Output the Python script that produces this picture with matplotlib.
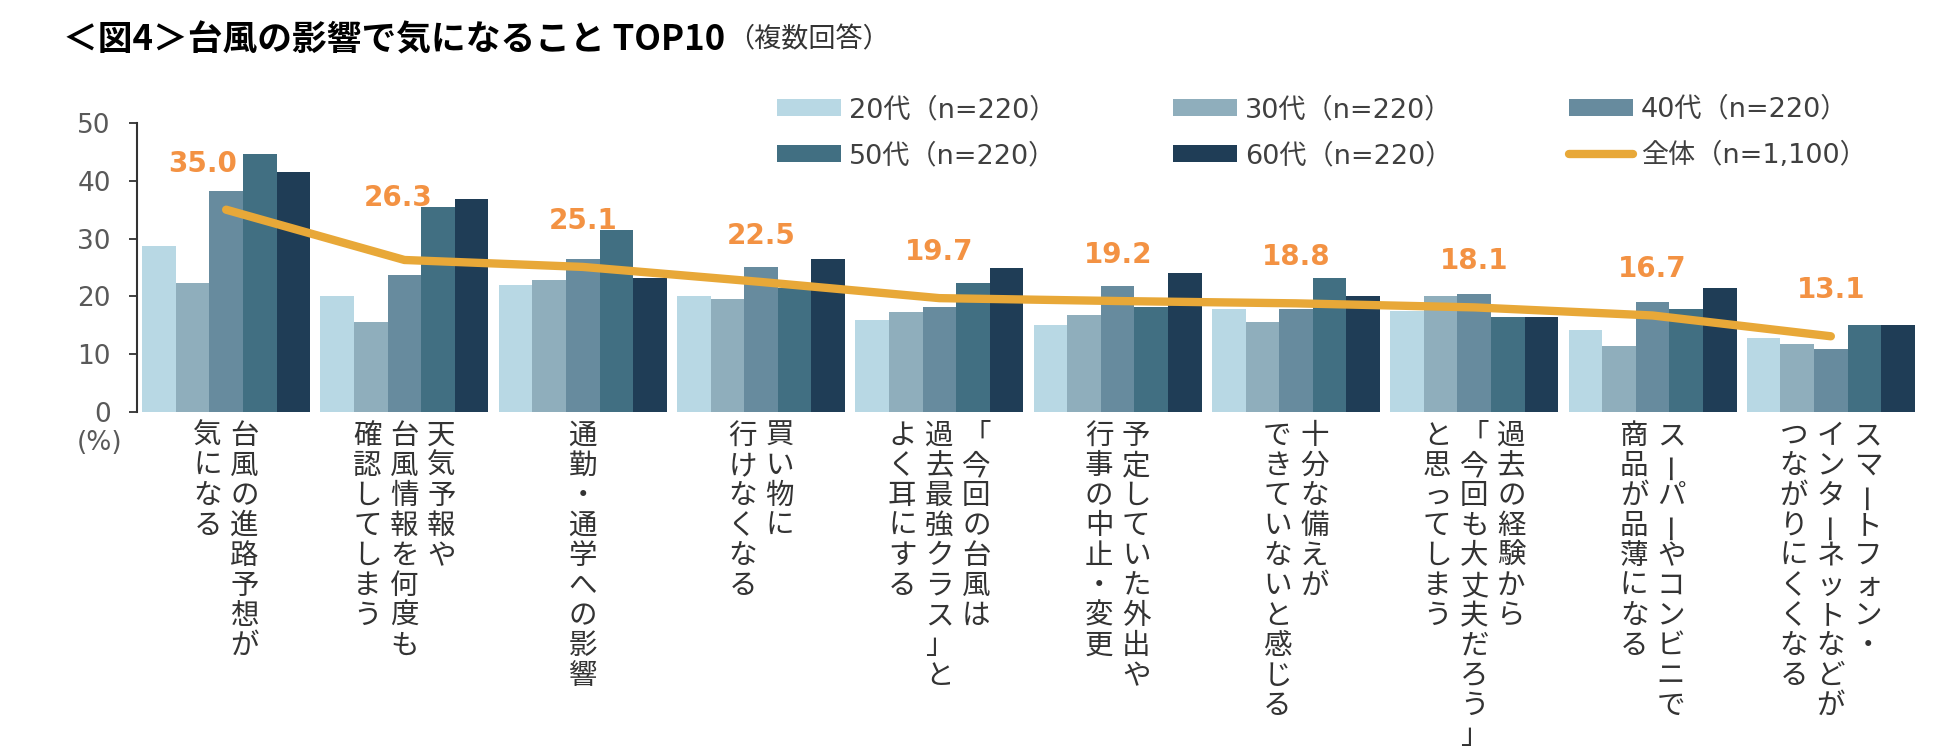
import matplotlib
matplotlib.use("Agg")
import matplotlib.pyplot as plt
from matplotlib.patches import Patch
from matplotlib.lines import Line2D
from matplotlib.font_manager import FontProperties
from matplotlib import transforms as mtrans
import numpy as np

# ---------------- data ----------------
categories = [
    ["台風の進路予想が", "気になる"],
    ["天気予報や", "台風情報を何度も", "確認してしまう"],
    ["通勤・通学への影響"],
    ["買い物に", "行けなくなる"],
    ["「今回の台風は", "過去最強クラス」と", "よく耳にする"],
    ["予定していた外出や", "行事の中止・変更"],
    ["十分な備えが", "できていないと感じる"],
    ["過去の経験から", "「今回も大丈夫だろう」", "と思ってしまう"],
    ["スーパーやコンビニで", "商品が品薄になる"],
    ["スマートフォン・", "インターネットなどが", "つながりにくくなる"],
]
series_names = ["20代（n=220）", "30代（n=220）", "40代（n=220）",
                "50代（n=220）", "60代（n=220）"]
total_name = "全体（n=1,100）"

age20 = [28.7, 20.1, 21.9, 20.1, 15.9, 15.1, 17.8, 17.4, 14.2, 12.8]
age30 = [22.3, 15.5, 22.8, 19.6, 17.3, 16.8, 15.5, 20.1, 11.5, 11.8]
age40 = [38.2, 23.7, 26.5, 25.1, 18.2, 21.8, 17.8, 20.4, 19.0, 10.9]
age50 = [44.6, 35.4, 31.5, 21.4, 22.3, 18.2, 23.2, 16.4, 17.8, 15.0]
age60 = [41.5, 36.8, 23.2, 26.4, 25.0, 24.1, 20.1, 16.4, 21.5, 15.0]
total = [35.0, 26.3, 25.1, 22.5, 19.7, 19.2, 18.8, 18.1, 16.7, 13.1]
yticks = [0, 10, 20, 30, 40, 50]

title_main = "＜図4＞台風の影響で気になること TOP10"
title_sub = "（複数回答）"
unit_label = "(%)"

# ---------------- style ----------------
bar_colors = ["#B8D8E4", "#8FAEBC", "#678B9E", "#416F82", "#1F3D56"]
line_color = "#E8A838"
label_color = "#F39243"
W, H = 1950, 753
CJK = "Noto Sans CJK JP"

fig = plt.figure(figsize=(W / 100, H / 100), dpi=100)
ax = fig.add_axes([137 / W, 1 - 412 / H, 1783 / W, 289 / H])

series = [age20, age30, age40, age50, age60]
x = np.arange(len(categories))
bw = 0.1885
for k, vals in enumerate(series):
    ax.bar(x + (k - 2) * bw, vals, width=bw, color=bar_colors[k],
           linewidth=0, zorder=2)

ax.plot(x, total, color=line_color, lw=6, solid_capstyle="round",
        solid_joinstyle="round", zorder=3)

# data labels (a couple nudged as in the original)
label_shift = {0: (-24, 0), 1: (-6, 16)}
for i, v in enumerate(total):
    dx, dy = label_shift.get(i, (0, 0))
    ax.annotate(f"{v:.1f}", xy=(i, v), xytext=(dx, 46 + dy),
                textcoords="offset pixels", ha="center", va="center",
                fontsize=20, fontweight="bold", color=label_color,
                family=["DejaVu Sans"], zorder=4)

ax.set_xlim(-0.5, len(categories) - 0.5)
ax.set_ylim(0, 50)
ax.set_yticks(yticks)
ax.set_xticks([])
for s in ["top", "right", "bottom"]:
    ax.spines[s].set_visible(False)
ax.spines["left"].set_color("#333333")
ax.spines["left"].set_linewidth(1.5)
ax.tick_params(axis="y", direction="out", length=5.8, width=1.3,
               color="#333333", pad=13, labelsize=19, labelcolor="#595959")

fig.text(100 / W, 1 - 443 / H, unit_label, ha="center", va="center",
         fontsize=19, color="#595959")

# vertical (stacked) category labels
base = mtrans.blended_transform_factory(ax.transData, ax.transAxes)
cat_fs = 20.5
col_px, first_px, adv_px = 37, 24, 30
for i, lines in enumerate(categories):
    n = len(lines)
    for j, line in enumerate(lines):
        dx = ((n - 1) / 2 - j) * col_px
        for k, ch in enumerate(line):
            dy = -(first_px + k * adv_px)
            tr = mtrans.offset_copy(base, fig=fig, x=dx, y=dy, units="dots")
            rot = 90 if ch == "ー" else 0   # long vowel mark upright
            ax.text(i, 0, ch, transform=tr, ha="center", va="center",
                    rotation=rot, rotation_mode="default", fontsize=cat_fs,
                    color="#333333", family=[CJK], clip_on=False)

# legend: three columns of two rows
fs = 19.5
fs_px = fs * 100 / 72
prop = FontProperties(family=["DejaVu Sans", CJK], size=fs)
patches = [Patch(facecolor=c, edgecolor="none") for c in bar_colors]
tline = Line2D([], [], color=line_color, lw=6, solid_capstyle="round")
cols = [
    ([patches[0], patches[3]], [series_names[0], series_names[3]], 777),
    ([patches[1], patches[4]], [series_names[1], series_names[4]], 1173),
    ([patches[2], tline], [series_names[2], total_name], 1569),
]
for hs, ls, xp in cols:
    fig.legend(handles=hs, labels=ls, loc="center left",
               bbox_to_anchor=(xp / W, 1 - 133 / H), frameon=False,
               borderpad=0, borderaxespad=0, handlelength=64 / fs_px,
               handleheight=15 / fs_px, handletextpad=8 / fs_px,
               labelspacing=0.74, prop=prop, labelcolor="#404040")

# title
t = fig.text(63 / W, 1 - 40 / H, title_main, fontsize=25, fontweight="bold",
             family=[CJK], va="center", ha="left", color="#000000")
ax.annotate(title_sub, xy=(1, 0.5), xycoords=t, xytext=(2, 0),
            textcoords="offset pixels", va="center", ha="left",
            fontsize=19.5, family=[CJK], color="#333333", annotation_clip=False)

fig.savefig("out.png", dpi=100)
